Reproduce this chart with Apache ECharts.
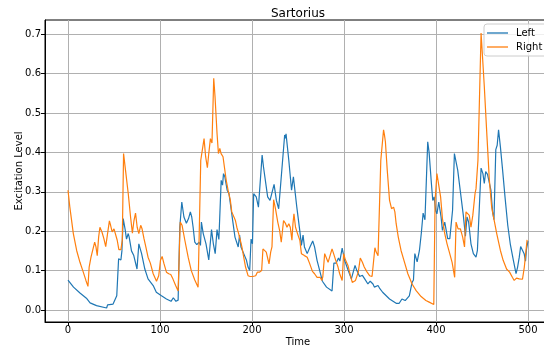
<!DOCTYPE html>
<html>
<head>
<meta charset="utf-8">
<script src="https://cdn.jsdelivr.net/npm/echarts@6/dist/echarts.min.js"></script>
<style>
html,body{margin:0;padding:0;background:#fff;}
#chart{width:544px;height:350px;}
</style>
</head>
<body>
<div id="chart"></div>
<script>
const titleText = 'Sartorius';
const xTicks = [0, 100, 200, 300, 400, 500];
const yTicks = [0, 0.1, 0.2, 0.3, 0.4, 0.5, 0.6, 0.7];

const leftTime = [0,6,13,20,24,31,42,43,49,51,53,55,56.5,57.5,58.6,60,62,63.6,65.5,66.5,69,71.5,75,77,80,83.5,87,92.6,96,98,101.6,107,112,114.5,117.3,119.7,120.5,121.5,123.7,126,128.7,131,133,134.5,136,137.8,140,142.5,144,145,147,150,153,156,158,160,162,164,166.5,168,169,170.5,173,175,177.5,179,181.5,183,185,186.5,188,191,194,195.7,197.5,199,200.5,201.8,204.6,207,211,212.5,217,219.6,221.7,224,226.5,229,235.5,236.6,237,240,243,245,248.7,252,253.7,255.5,257,260,263,266,268,270.7,273.6,276.5,281,287,289,291.5,294,295.5,298,300.7,304,308,312,314,317,320,322.5,326,328.5,331.5,333,337,339,342,349.5,356.7,360,363,366.5,368.5,371,374,375.5,377,379.5,382,384,386,388,391,392.5,395,396.5,398,399.7,401,403,405.5,407,409.5,412.7,415,418,420,421.5,423.6,427,429.7,432,433.7,435.5,438,440.6,443.5,445,447,449,451,452.5,454,456,457.8,459.7,461.5,463,465,466.5,468,470,472.4,475,478,480.7,484,487,488.7,490.5,492,494,495.8,497.3,498.4,500];
const leftValues = [0.076,0.058,0.043,0.030,0.018,0.011,0.005,0.013,0.015,0.020,0.036,0.130,0.134,0.127,0.150,0.232,0.206,0.180,0.194,0.185,0.150,0.138,0.104,0.168,0.143,0.104,0.079,0.062,0.045,0.049,0.036,0.028,0.022,0.031,0.022,0.025,0.022,0.210,0.274,0.236,0.220,0.232,0.249,0.236,0.210,0.172,0.166,0.172,0.164,0.223,0.194,0.168,0.127,0.204,0.168,0.143,0.204,0.179,0.329,0.317,0.346,0.338,0.304,0.295,0.253,0.227,0.185,0.190,0.160,0.190,0.160,0.143,0.126,0.109,0.100,0.180,0.168,0.295,0.287,0.261,0.393,0.363,0.287,0.278,0.282,0.319,0.278,0.257,0.444,0.436,0.447,0.380,0.304,0.338,0.261,0.200,0.164,0.190,0.160,0.143,0.160,0.175,0.160,0.126,0.100,0.073,0.058,0.048,0.119,0.119,0.132,0.124,0.157,0.126,0.104,0.079,0.113,0.100,0.085,0.088,0.079,0.066,0.073,0.066,0.058,0.062,0.054,0.045,0.028,0.017,0.017,0.028,0.024,0.024,0.036,0.070,0.076,0.143,0.122,0.151,0.194,0.246,0.229,0.427,0.400,0.321,0.278,0.287,0.251,0.244,0.274,0.236,0.202,0.223,0.181,0.181,0.253,0.397,0.393,0.355,0.291,0.240,0.187,0.236,0.223,0.168,0.143,0.134,0.151,0.147,0.360,0.346,0.321,0.351,0.344,0.346,0.304,0.249,0.229,0.407,0.418,0.457,0.414,0.355,0.287,0.215,0.168,0.127,0.092,0.109,0.134,0.161,0.158,0.143,0.124,0.155,0.175];

const rightTime = [0,2,5.8,9.4,13,16.6,19.5,21.7,23,25,27,29,30.4,31.8,33.3,34.7,36.9,39,41,43,45,46.3,48,50,51.7,53.5,55.3,57.5,59,60.4,62.5,65.5,68,70,71.7,73.4,75.2,77,79,80.5,82.6,84.6,87,89.5,92.6,96.2,98.6,100.5,102.3,104.4,107,109.5,111.7,114,117,119.7,120.5,122,124,127,130.6,134,137.8,141.4,142.5,144.3,145.7,147.9,149.6,151.5,153,154.8,156.5,158.4,159.8,162,163.5,165,166.4,168.5,170,172,174,176.5,178,180,182,183.5,185.5,187.3,189,191,193,195.7,198,201,204,205.8,208,210.5,211.9,213.7,215.5,218.5,220.3,221.7,223.5,225.5,228,230,231.8,234.3,236.5,238,240,241.6,243.4,244.5,245.6,247.3,250,252,253.7,255.5,257,260,262.8,265.7,268,270.7,272.5,274,276,277,279,281,282.7,284.5,287,288.7,291,293.5,295.3,298,299.6,301.4,304.3,307,309,311,312.5,314,315.5,317.7,320,322,324.6,327.8,330.5,333.6,335,337,338,340,343,344,345,347,349.5,351.7,353.9,355.3,356.7,359,362,365.8,369.4,374,378.4,383.8,389,392.6,397.6,399,401,402.8,405,407,409.5,412,414.5,417.5,420.3,421.8,424,426.5,429,431,432.6,434.4,436.2,438,440,442.4,443.5,445.6,449,450,452.5,455.4,458,460.5,463.3,466,470,473,476.7,480,483,485,487.5,490.5,492.3,494,496,499];
const rightValues = [0.304,0.261,0.194,0.151,0.121,0.096,0.075,0.060,0.109,0.134,0.138,0.172,0.160,0.138,0.185,0.210,0.198,0.181,0.161,0.194,0.226,0.215,0.198,0.206,0.202,0.177,0.153,0.153,0.177,0.397,0.355,0.295,0.236,0.195,0.227,0.246,0.210,0.194,0.215,0.206,0.181,0.160,0.134,0.119,0.092,0.073,0.087,0.126,0.136,0.117,0.096,0.092,0.090,0.079,0.062,0.048,0.050,0.223,0.215,0.177,0.134,0.100,0.076,0.058,0.058,0.380,0.382,0.435,0.389,0.361,0.397,0.435,0.424,0.588,0.542,0.448,0.397,0.410,0.397,0.389,0.363,0.329,0.304,0.278,0.249,0.253,0.227,0.210,0.194,0.177,0.160,0.134,0.109,0.087,0.085,0.085,0.087,0.096,0.096,0.100,0.155,0.160,0.147,0.117,0.147,0.160,0.280,0.257,0.223,0.202,0.172,0.227,0.219,0.210,0.219,0.210,0.177,0.219,0.244,0.210,0.190,0.177,0.143,0.143,0.138,0.134,0.117,0.098,0.092,0.083,0.079,0.083,0.075,0.085,0.143,0.143,0.121,0.121,0.155,0.143,0.126,0.109,0.092,0.075,0.143,0.128,0.113,0.087,0.070,0.070,0.075,0.070,0.096,0.132,0.121,0.109,0.098,0.087,0.085,0.158,0.147,0.138,0.140,0.380,0.457,0.444,0.427,0.355,0.278,0.257,0.261,0.249,0.219,0.185,0.151,0.121,0.092,0.066,0.049,0.034,0.024,0.020,0.014,0.278,0.346,0.344,0.287,0.232,0.194,0.168,0.147,0.121,0.083,0.223,0.206,0.206,0.185,0.160,0.249,0.244,0.240,0.210,0.240,0.295,0.308,0.380,0.703,0.699,0.567,0.440,0.329,0.261,0.227,0.194,0.151,0.126,0.104,0.096,0.083,0.075,0.081,0.079,0.083,0.078,0.109,0.178];

const seriesNames = ['Left', 'Right'];
const seriesColors = ['#1f77b4', '#ff7f0e'];

function pairs(ts, vs) { return ts.map((t, i) => [t, vs[i]]); }

const font = 'DejaVu Sans';
const chart = echarts.init(document.getElementById('chart'), null, {renderer: 'canvas'});
chart.setOption({
  animation: false,
  backgroundColor: '#fff',
  title: {
    text: titleText,
    left: 293, top: 3,
    textAlign: 'center',
    textStyle: {fontFamily: font, fontSize: 12, fontWeight: 'normal', color: '#000'}
  },
  legend: {
    orient: 'vertical',
    left: 484, top: 24,
    padding: [4, 6, 4, 3],
    itemGap: 4,
    icon: 'rect',
    itemWidth: 21, itemHeight: 1.3,
    backgroundColor: 'rgba(255,255,255,0.8)',
    borderColor: '#cccccc', borderWidth: 1, borderRadius: 3,
    textStyle: {fontFamily: font, fontSize: 10, lineHeight: 10, color: '#000', padding: [0, 0, 0, 3]},
    data: seriesNames
  },
  grid: {
    left: 45, top: 20, width: 506, height: 302,
    outerBoundsMode: 'none',
    show: true, borderColor: '#000', borderWidth: 1, backgroundColor: 'transparent',
    containLabel: false
  },
  xAxis: {
    type: 'value', min: -25, max: 525,
    name: 'Time', nameLocation: 'middle', nameGap: 15, nameMoveOverlap: false,
    nameTextStyle: {fontFamily: font, fontSize: 10, color: '#000'},
    axisLine: {show: true, onZero: false, lineStyle: {color: '#000', width: 1}},
    axisTick: {show: true, length: 4, customValues: xTicks, lineStyle: {color: '#000'}},
    axisLabel: {customValues: xTicks, fontFamily: font, fontSize: 10, color: '#000', margin: 3},
    splitLine: {show: true, lineStyle: {color: '#b0b0b0', width: 1}}
  },
  yAxis: {
    type: 'value', min: -0.0305, max: 0.736,
    name: 'Excitation Level', nameLocation: 'middle', nameGap: 21, nameRotate: 90, nameMoveOverlap: false,
    nameTextStyle: {fontFamily: font, fontSize: 10, color: '#000'},
    axisLine: {show: true, onZero: false, lineStyle: {color: '#000', width: 1}},
    axisTick: {show: true, length: 4, customValues: yTicks, lineStyle: {color: '#000'}},
    axisLabel: {customValues: yTicks, fontFamily: font, fontSize: 10, color: '#000', margin: 4,
      formatter: v => v.toFixed(1)},
    splitLine: {show: true, lineStyle: {color: '#b0b0b0', width: 1}}
  },
  series: [
    {name: seriesNames[0], type: 'line', data: pairs(leftTime, leftValues), symbol: 'none',
     color: seriesColors[0], lineStyle: {width: 1.2, color: seriesColors[0]}},
    {name: seriesNames[1], type: 'line', data: pairs(rightTime, rightValues), symbol: 'none',
     color: seriesColors[1], lineStyle: {width: 1.2, color: seriesColors[1]}}
  ]
});
</script>
</body>
</html>
